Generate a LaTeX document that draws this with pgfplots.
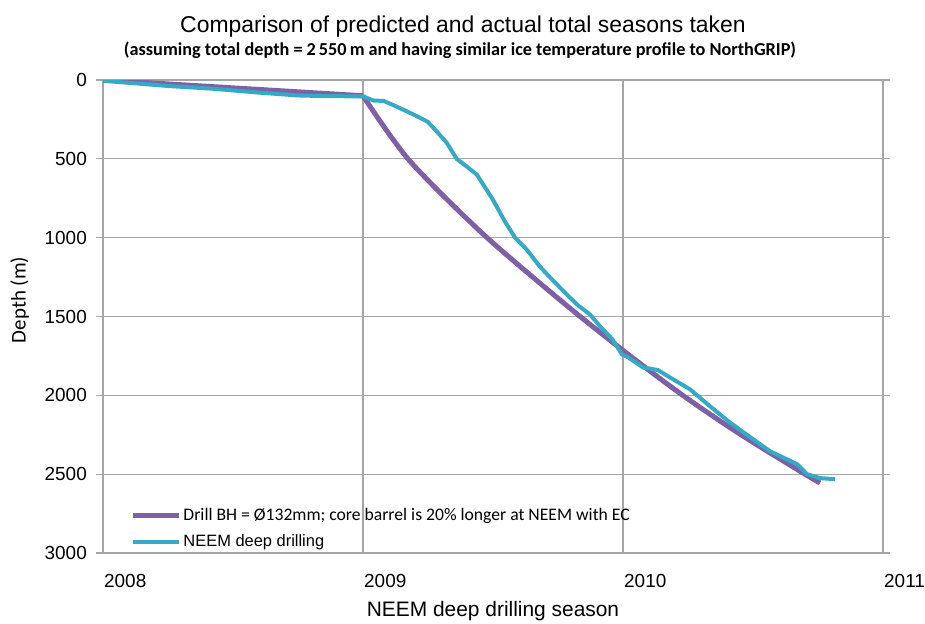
\documentclass[border=0pt]{standalone}
\usepackage{pgfplots}
\pgfplotsset{compat=1.18}
\usepackage{fontspec}
\setmainfont{Liberation Sans}
\newfontfamily\calibri{Carlito}
\definecolor{predpurple}{HTML}{7E60A6}
\definecolor{neemcyan}{HTML}{35AAC7}
\definecolor{gridgray}{HTML}{A6A6A6}

\begin{document}
\begin{tikzpicture}
\begin{axis}[
    scale only axis,
    width=780bp, height=473bp,
    xmin=2008, xmax=2011,
    ymin=0, ymax=3000,
    y dir=reverse,
    xtick={2008,2009,2010,2011},
    ytick={0,500,1000,1500,2000,2500,3000},
    /pgf/number format/1000 sep={},
    /pgf/number format/assume math mode=true,
    grid=major,
    grid style={gridgray, line width=1.2bp},
    axis line style={gridgray, line width=1.2bp},
    xtick style={draw=none},
    ytick style={gridgray, line width=1.2bp},
    tick align=outside,
    major tick length=7bp,
    ticklabel style={font=\fontsize{19}{22}\selectfont},
    yticklabel style={anchor=east, inner sep=0pt, xshift=-9bp},
    xticklabel style={anchor=north west, inner sep=0pt, xshift=1bp, yshift=-14bp},
    xlabel={NEEM deep drilling season},
    ylabel={Depth (m)},
    xlabel style={font=\fontsize{21}{24}\selectfont, at={(axis description cs:0.5,0)}, anchor=center, yshift=-58bp},
    ylabel style={font=\calibri\fontsize{21}{24}\selectfont, at={(axis description cs:-0.107,0.535)}, anchor=center},
    legend cell align=left,
    legend style={draw=none, fill=none, at={(axis description cs:0.035,0.005)}, anchor=south west,
        font=\fontsize{16.5}{20}\selectfont, row sep=9bp, inner sep=0pt},
    legend image code/.code={\draw[#1] (0bp,0bp) -- (46bp,0bp);},
]
% predicted: straight first season, then curve
\addplot[predpurple, line width=5bp, forget plot] coordinates {
(2008.000,0) (2009.000,100)
};
\addplot[predpurple, line width=5bp, smooth, tension=0.5] coordinates {
(2009.000,100) (2009.080,295) (2009.173,500) (2009.300,720)
(2009.477,1000) (2009.650,1246) (2009.835,1500) (2010.030,1753)
(2010.230,2000) (2010.450,2246) (2010.700,2500) (2010.758,2555)
};
\addlegendentry{\calibri\fontsize{17.7}{20}\selectfont Drill BH = Ø132mm; core barrel is 20\% longer at NEEM with EC}
\addplot[neemcyan, line width=4bp] coordinates {
(2008.000,5) (2008.100,18) (2008.250,38) (2008.420,55) (2008.600,80)
(2008.750,98) (2008.850,102) (2009.000,104) (2009.040,130) (2009.080,133)
(2009.115,158) (2009.170,200) (2009.220,240) (2009.250,266) (2009.285,329)
(2009.323,400) (2009.360,500) (2009.400,550) (2009.438,600) (2009.500,760)
(2009.546,898) (2009.585,1000) (2009.630,1076) (2009.680,1183) (2009.720,1253)
(2009.765,1329) (2009.823,1424) (2009.873,1487) (2009.912,1563) (2009.960,1646)
(2009.996,1741) (2010.020,1759) (2010.077,1823) (2010.135,1840) (2010.180,1886)
(2010.220,1925) (2010.258,1962) (2010.335,2070) (2010.410,2171) (2010.500,2278)
(2010.565,2354) (2010.670,2437) (2010.708,2500) (2010.758,2525) (2010.815,2532)
};
\addlegendentry{NEEM deep drilling}
\end{axis}
\node[font=\fontsize{23}{26}\selectfont, anchor=center] at ([xshift=-30bp, yshift=53bp]current axis.north) {Comparison of predicted and actual total seasons taken};
\node[font=\calibri\bfseries\fontsize{18.3}{21}\selectfont, anchor=center] at ([xshift=-33bp, yshift=30bp]current axis.north) {(assuming total depth = 2\,550\,m and having similar ice temperature profile to NorthGRIP)};
\pgfresetboundingbox
\useasboundingbox ([xshift=-103bp, yshift=-71bp]current axis.south west) rectangle ([xshift=42bp, yshift=80bp]current axis.north east);
\end{tikzpicture}
\end{document}
